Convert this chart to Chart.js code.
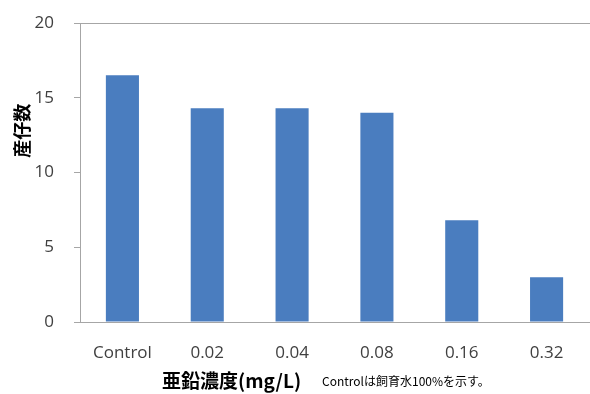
<!DOCTYPE html>
<html>
<head>
<meta charset="utf-8">
<script src="https://cdn.jsdelivr.net/npm/chart.js@4/dist/chart.umd.min.js"></script>
<style>
  html, body { margin: 0; padding: 0; background: #ffffff; }
  #wrap { width: 590px; height: 394px; position: relative; }
</style>
</head>
<body>
<div id="wrap"><canvas id="c" width="590" height="394"></canvas></div>
<script>
// 亜鉛濃度ごとの産仔数
const categories = ['Control', '0.02', '0.04', '0.08', '0.16', '0.32'];
const offspring = [16.5, 14.3, 14.3, 14.0, 6.8, 3.0];
const yTicks = [0, 5, 10, 15, 20];

const yTitle = '産仔数';
const xTitle = '亜鉛濃度(mg/L)';
const note = 'Controlは飼育水100%を示す。';

const JP = '"Noto Sans CJK JP", "Noto Sans", sans-serif';
const LAT = '"Open Sans", "Noto Sans", sans-serif';

// Frame line at the top, axis titles and the footnote
const decorations = {
  id: 'decorations',
  afterDraw(chart) {
    const { ctx, chartArea, scales } = chart;
    ctx.save();
    ctx.strokeStyle = '#a6a6a6';
    ctx.lineWidth = 1;
    ctx.beginPath();
    ctx.moveTo(chartArea.left, Math.round(chartArea.top) + 0.5);
    ctx.lineTo(chart.width, Math.round(chartArea.top) + 0.5);
    ctx.stroke();

    // y title, rotated
    ctx.fillStyle = '#000000';
    ctx.font = 'bold 18px ' + JP;
    ctx.textAlign = 'center';
    ctx.textBaseline = 'middle';
    ctx.translate(22, scales.y.getPixelForValue(12.8));
    ctx.rotate(-Math.PI / 2);
    ctx.fillText(yTitle, 0, 0);
    ctx.restore();

    ctx.save();
    ctx.fillStyle = '#000000';
    ctx.textBaseline = 'middle';
    ctx.textAlign = 'left';
    ctx.font = 'bold 19px ' + JP;
    ctx.fillText(xTitle, 162, 381);
    ctx.font = '12px ' + JP;
    ctx.fillText(note, 322, 381);
    ctx.restore();
  }
};

new Chart(document.getElementById('c'), {
  type: 'bar',
  data: {
    labels: categories,
    datasets: [{
      data: offspring,
      backgroundColor: '#4a7dbf',
      borderWidth: 0,
      barPercentage: 0.39,
      categoryPercentage: 1.0
    }]
  },
  options: {
    responsive: false,
    animation: false,
    devicePixelRatio: 1,
    layout: { padding: { top: 23, right: 1, left: 0, bottom: 0 } },
    plugins: {
      legend: { display: false },
      tooltip: { enabled: false },
      title: { display: false }
    },
    scales: {
      x: {
        grid: { display: false },
        border: { display: true, color: '#a6a6a6', width: 1 },
        ticks: {
          color: '#404040',
          font: { family: LAT, size: 17 },
          padding: 13,
          maxRotation: 0
        },
        afterFit(scale) {
          scale.height = 72;
          scale.paddingLeft = 0;
          scale.paddingRight = 0;
        }
      },
      y: {
        min: 0,
        max: 20,
        afterBuildTicks(scale) { scale.ticks = yTicks.map(v => ({ value: v })); },
        grid: { drawOnChartArea: false, drawTicks: true, tickLength: 6, color: '#a6a6a6' },
        border: { display: true, color: '#a6a6a6', width: 1 },
        ticks: {
          color: '#404040',
          font: { family: LAT, size: 17 },
          padding: 20
        },
        afterFit(scale) {
          scale.width = 80;
          scale.paddingTop = 0;
          scale.paddingBottom = 0;
        }
      }
    }
  },
  plugins: [decorations]
});
</script>
</body>
</html>
